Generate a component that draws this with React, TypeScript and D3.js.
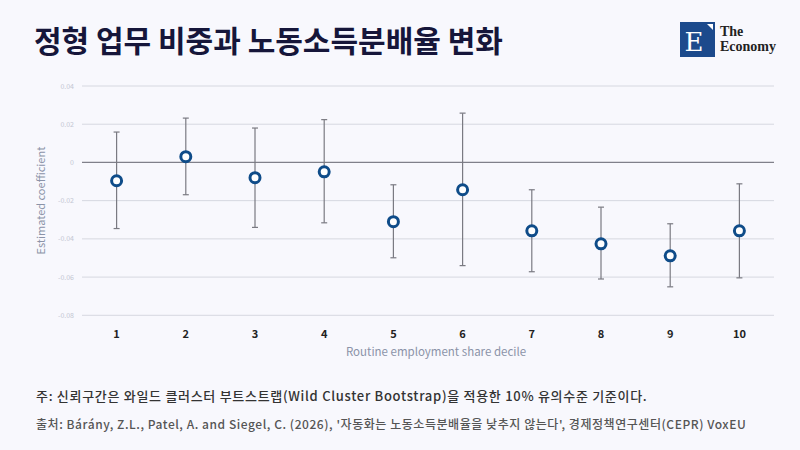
import { useEffect, useRef } from 'react';
import * as d3 from 'd3';

const deciles = ['1', '2', '3', '4', '5', '6', '7', '8', '9', '10'];
const estimates = [-0.0096, 0.003, -0.008, -0.0049, -0.031, -0.0143, -0.0358, -0.0426, -0.0489, -0.0358];
const upperCI = [0.0159, 0.0232, 0.018, 0.0224, -0.0117, 0.0258, -0.0143, -0.0234, -0.0321, -0.0112];
const lowerCI = [-0.0346, -0.0169, -0.034, -0.0316, -0.0499, -0.054, -0.0572, -0.061, -0.0651, -0.0604];
const yTicks = [0.04, 0.02, 0, -0.02, -0.04, -0.06, -0.08];

const title = '정형 업무 비중과 노동소득분배율 변화';
const note = '주: 신뢰구간은 와일드 클러스터 부트스트랩(Wild Cluster Bootstrap)을 적용한 10% 유의수준 기준이다.';
const source = "출처: Bárány, Z.L., Patel, A. and Siegel, C. (2026), '자동화는 노동소득분배율을 낮추지 않는다', 경제정책연구센터(CEPR) VoxEU";

const FONT = '"Noto Sans CJK KR", "Noto Sans", sans-serif';

export default function App() {
  const ref = useRef<SVGSVGElement>(null);

  useEffect(() => {
    if (!ref.current) return;
    const svg = d3.select(ref.current);
    svg.selectAll('*').remove();

    const W = 800, H = 450;
    const margin = { top: 86, right: 26, bottom: 135, left: 82 };

    svg.append('rect').attr('width', W).attr('height', H).attr('fill', '#f8f8fd');

    // title
    svg.append('text')
      .attr('x', 34).attr('y', 52)
      .style('font-family', FONT).style('font-size', '30px').style('font-weight', 700)
      .attr('fill', '#16163a')
      .text(title);

    // logo
    const logo = svg.append('g');
    logo.append('rect').attr('x', 680).attr('y', 22).attr('width', 35).attr('height', 35).attr('fill', '#1c4a8c');
    logo.append('path').attr('d', 'M707,24 L713,24 L713,30 Z').attr('fill', '#fff');
    logo.append('text').attr('x', 694).attr('y', 51).attr('text-anchor', 'middle')
      .style('font-family', '"DejaVu Serif", "Liberation Serif", serif').style('font-size', '26px')
      .attr('fill', '#fff').text('E');
    logo.append('text').attr('x', 720).attr('y', 36)
      .style('font-family', '"Liberation Serif", serif').style('font-size', '14px').style('font-weight', 700)
      .attr('fill', '#222').text('The');
    logo.append('text').attr('x', 720).attr('y', 51)
      .style('font-family', '"Liberation Serif", serif').style('font-size', '14px').style('font-weight', 700)
      .attr('fill', '#222').text('Economy');

    const x = d3.scaleBand().domain(deciles).range([margin.left, W - margin.right]);
    const y = d3.scaleLinear().domain([-0.08, 0.04]).range([H - margin.bottom + 0.3, margin.top]);

    // grid
    svg.append('g')
      .selectAll('line')
      .data(yTicks)
      .enter()
      .append('line')
      .attr('x1', margin.left).attr('x2', W - margin.right)
      .attr('y1', d => y(d)).attr('y2', d => y(d))
      .attr('stroke', d => (d === 0 ? '#80808a' : '#d6d8e0'))
      .attr('stroke-width', d => (d === 0 ? 1.2 : 1));

    // y tick labels
    svg.append('g')
      .selectAll('text')
      .data(yTicks)
      .enter()
      .append('text')
      .attr('x', 74).attr('y', d => y(d) + 2.5)
      .attr('text-anchor', 'end')
      .style('font-family', FONT).style('font-size', '7px')
      .attr('fill', '#c3c7d3')
      .text(d => (d === 0 ? '0' : d3.format('.2f')(d).replace('−', '-')));

    // y axis title
    svg.append('text')
      .attr('transform', `translate(45,${y(-0.02)}) rotate(-90)`)
      .attr('text-anchor', 'middle')
      .style('font-family', FONT).style('font-size', '11px')
      .attr('fill', '#8b93a8')
      .text('Estimated coefficient');

    // x tick labels
    svg.append('g')
      .selectAll('text')
      .data(deciles)
      .enter()
      .append('text')
      .attr('x', d => (x(d) as number) + x.bandwidth() / 2)
      .attr('y', 338)
      .attr('text-anchor', 'middle')
      .style('font-family', FONT).style('font-size', '11px').style('font-weight', 700)
      .attr('fill', '#222')
      .text(d => d);

    svg.append('text')
      .attr('x', (margin.left + W - margin.right) / 2 + 8).attr('y', 356)
      .attr('text-anchor', 'middle')
      .style('font-family', FONT).style('font-size', '11.5px')
      .attr('fill', '#8b93a8')
      .text('Routine employment share decile');

    const idx = d3.range(deciles.length);
    const cx = (i: number) => (x(deciles[i]) as number) + x.bandwidth() / 2;

    // error bars
    const bars = svg.append('g').attr('stroke', '#7a7a82').attr('stroke-width', 1.2);
    bars.selectAll('.whisker').data(idx).enter().append('line')
      .attr('x1', cx).attr('x2', cx)
      .attr('y1', i => y(upperCI[i])).attr('y2', i => y(lowerCI[i]));
    bars.selectAll('.capTop').data(idx).enter().append('line')
      .attr('x1', i => cx(i) - 3).attr('x2', i => cx(i) + 3)
      .attr('y1', i => y(upperCI[i])).attr('y2', i => y(upperCI[i]));
    bars.selectAll('.capBottom').data(idx).enter().append('line')
      .attr('x1', i => cx(i) - 3).attr('x2', i => cx(i) + 3)
      .attr('y1', i => y(lowerCI[i])).attr('y2', i => y(lowerCI[i]));

    // points
    svg.append('g').selectAll('circle').data(idx).enter().append('circle')
      .attr('cx', cx).attr('cy', i => y(estimates[i]))
      .attr('r', 5)
      .attr('fill', '#fff')
      .attr('stroke', '#0f4c89')
      .attr('stroke-width', 3);

    // footnotes
    svg.append('text')
      .attr('x', 36).attr('y', 401)
      .style('font-family', FONT).style('font-size', '13px').style('font-weight', 500)
      .style('letter-spacing', '0.7px')
      .attr('fill', '#333')
      .text(note);
    svg.append('text')
      .attr('x', 36).attr('y', 429)
      .style('font-family', FONT).style('font-size', '12px').style('font-weight', 500)
      .style('letter-spacing', '0.55px')
      .attr('fill', '#555')
      .text(source);
  }, []);

  return (
    <div style={{ position: 'fixed', left: 0, top: 0 }}>
      <svg ref={ref} width={800} height={450} style={{ display: 'block' }} />
    </div>
  );
}
